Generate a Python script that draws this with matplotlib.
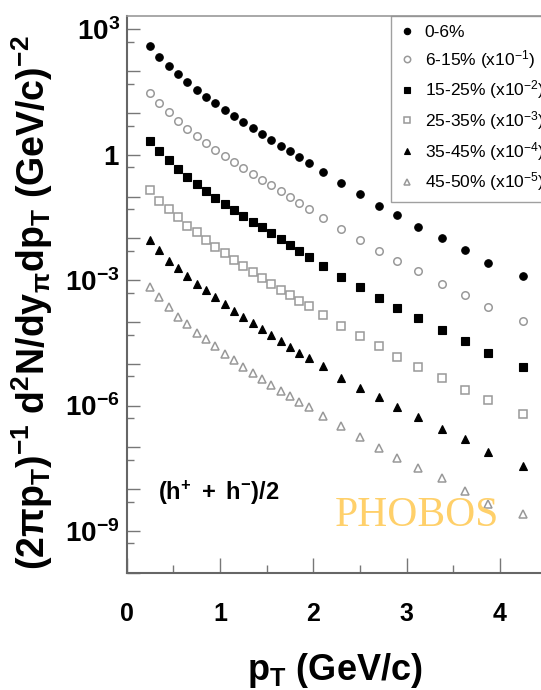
import numpy as np
import matplotlib
matplotlib.use('Agg')
import matplotlib.pyplot as plt
from matplotlib.ticker import FixedLocator, FixedFormatter, NullFormatter

plt.rcParams['font.family'] = ['Liberation Sans', 'DejaVu Sans']
plt.rcParams['mathtext.fontset'] = 'custom'
plt.rcParams['mathtext.rm'] = 'Liberation Sans'
plt.rcParams['mathtext.it'] = 'Liberation Sans:italic'
plt.rcParams['mathtext.bf'] = 'Liberation Sans:bold'

# transverse momentum bin centres (GeV/c)
pt = [0.25, 0.35, 0.45, 0.55, 0.65, 0.75, 0.85, 0.95, 1.05, 1.15,
      1.25, 1.35, 1.45, 1.55, 1.65, 1.75, 1.85, 1.95, 2.1, 2.3,
      2.5, 2.7, 2.9, 3.125, 3.375, 3.625, 3.875, 4.25]

# invariant yields per centrality bin, before the display scaling
y_0_6 = [398, 225, 137, 86.1, 55.1, 36.4, 24.2, 17.1, 12.1, 8.47,
         6.05, 4.37, 3.21, 2.30, 1.67, 1.23, 0.881, 0.629, 0.383, 0.212,
         0.117, 0.0612, 0.0372, 0.0192, 0.01005, 0.0053, 0.00263, 0.00128]
y_6_15 = [305, 171, 104, 64.3, 42.3, 28.4, 18.8, 13.3, 9.41, 6.68,
          4.91, 3.52, 2.50, 1.85, 1.33, 0.978, 0.695, 0.499, 0.310, 0.169,
          0.0936, 0.0510, 0.0294, 0.0166, 0.00811, 0.00442, 0.00223, 0.00107]
y_15_25 = [213, 123, 73.4, 45.9, 30.3, 20.6, 13.8, 9.51, 6.65, 4.77,
           3.47, 2.53, 1.85, 1.34, 0.962, 0.690, 0.496, 0.356, 0.220, 0.121,
           0.0672, 0.0374, 0.0215, 0.0124, 0.00640, 0.00354, 0.00186, 0.000843]
y_25_35 = [146, 80.6, 51.0, 32.1, 20.3, 14.0, 9.20, 6.12, 4.39, 3.05,
           2.23, 1.54, 1.10, 0.811, 0.582, 0.437, 0.317, 0.235, 0.150, 0.0789,
           0.0459, 0.0261, 0.0149, 0.00857, 0.00467, 0.00237, 0.00136, 0.000618]
y_35_45 = [92.0, 53.0, 29.4, 19.6, 12.3, 8.11, 5.82, 3.87, 2.66, 1.86,
           1.31, 0.931, 0.661, 0.485, 0.348, 0.254, 0.186, 0.136, 0.0867, 0.0467,
           0.0264, 0.0163, 0.00910, 0.00538, 0.00279, 0.00156, 0.000784, 0.000362]
y_45_50 = [68.7, 38.7, 22.3, 13.5, 8.71, 5.60, 3.89, 2.61, 1.76, 1.22,
           0.857, 0.615, 0.442, 0.312, 0.224, 0.170, 0.122, 0.0910, 0.0564, 0.0316,
           0.0177, 0.00977, 0.00569, 0.00324, 0.00182, 0.000895, 0.000430, 0.000256]

series = [y_0_6, y_6_15, y_15_25, y_25_35, y_35_45, y_45_50]
scale_exp = [0, -1, -2, -3, -4, -5]
labels = ['0-6%', r'6-15% (x10$^{-1}$)', r'15-25% (x10$^{-2}$)',
          r'25-35% (x10$^{-3}$)', r'35-45% (x10$^{-4}$)', r'45-50% (x10$^{-5}$)']
markers = ['o', 'o', 's', 's', '^', '^']
filled = [True, False, True, False, True, False]

fig = plt.figure(figsize=(5.41, 6.90), dpi=100)
ax = fig.add_axes([0.2342, 0.170, 0.7763, 0.8068])

for y, k, lab, m, f in zip(series, scale_exp, labels, markers, filled):
    vals = np.array(y) * 10.0 ** k
    if f:
        ax.plot(pt, vals, linestyle='none', marker=m, ms=5.4,
                mfc='black', mec='black', mew=0.8, label=lab)
    else:
        ax.plot(pt, vals, linestyle='none', marker=m, ms=5.4,
                mfc='white', mec='#999999', mew=1.1, label=lab)

ax.set_yscale('log')
ax.set_xlim(0, 4.5)
ax.set_ylim(1e-10, 2.1e3)

# x axis
ax.xaxis.set_major_locator(FixedLocator([0, 1, 2, 3, 4]))
ax.xaxis.set_minor_locator(FixedLocator([0.5, 1.5, 2.5, 3.5]))
ax.set_xticklabels(['0', '1', '2', '3', '4'], fontweight='bold')
ax.tick_params(axis='x', which='major', direction='in', length=11, width=1,
               color='#777777', pad=21, labelsize=18)
ax.tick_params(axis='x', which='minor', direction='in', length=6, width=1,
               color='#777777')

# y axis: a tick every decade, labels every third decade
decades = list(range(-10, 4))
ylabs = []
for d in decades:
    if d == 0:
        ylabs.append(r'$\mathbf{1}$')
    elif d % 3 == 0:
        ylabs.append(r'$\mathbf{10^{%d}}$' % d)
    else:
        ylabs.append('')
ax.yaxis.set_major_locator(FixedLocator([10.0 ** d for d in decades]))
ax.yaxis.set_major_formatter(FixedFormatter(ylabs))
ax.yaxis.set_minor_locator(FixedLocator([5 * 10.0 ** d for d in range(-11, 3)]))
ax.yaxis.set_minor_formatter(NullFormatter())
ax.tick_params(axis='y', which='major', direction='in', length=9.5, width=1,
               color='#777777', pad=5, labelsize=20)
ax.tick_params(axis='y', which='minor', direction='in', length=5, width=1,
               color='#777777')

for side in ['left', 'bottom']:
    ax.spines[side].set_color('#666666')
    ax.spines[side].set_linewidth(1.5)
ax.spines['top'].set_color('#999999')
ax.spines['top'].set_linewidth(1.2)

leg = ax.legend(loc='upper left', bbox_to_anchor=(391 / 541, 1 - 16 / 690),
                bbox_transform=fig.transFigure, fontsize=12.5, frameon=True,
                fancybox=False, edgecolor='#888888', borderpad=0.5,
                labelspacing=0.45, handlelength=0.85, handletextpad=0.6,
                borderaxespad=0, markerscale=0.85)
leg.get_frame().set_linewidth(1.0)

ax.text(0.0745, 0.131, r'$\mathbf{(h^{+}\ +\ h^{-})/2}$', transform=ax.transAxes,
        fontsize=17, va='baseline', ha='left')

fig.text(335 / 541, 1 - 680 / 690, r'$\mathbf{p_{T}\ (GeV/c)}$', fontsize=26,
         ha='center', va='baseline')
fig.text(32 / 541, 1 - 303 / 690,
         r'$\mathbf{(2\pi p_{T})^{-1}\ d^{2}N/dy_{\pi}dp_{T}\ (GeV/c)^{-2}}$',
         fontsize=27, rotation=90, ha='center', va='center')

fig.text(335 / 541, 1 - 526 / 690, 'PHOBOS', family='Liberation Serif',
         fontsize=30, color='#FFD06A', ha='left', va='baseline', zorder=10)

fig.savefig('out.png', dpi=100)
